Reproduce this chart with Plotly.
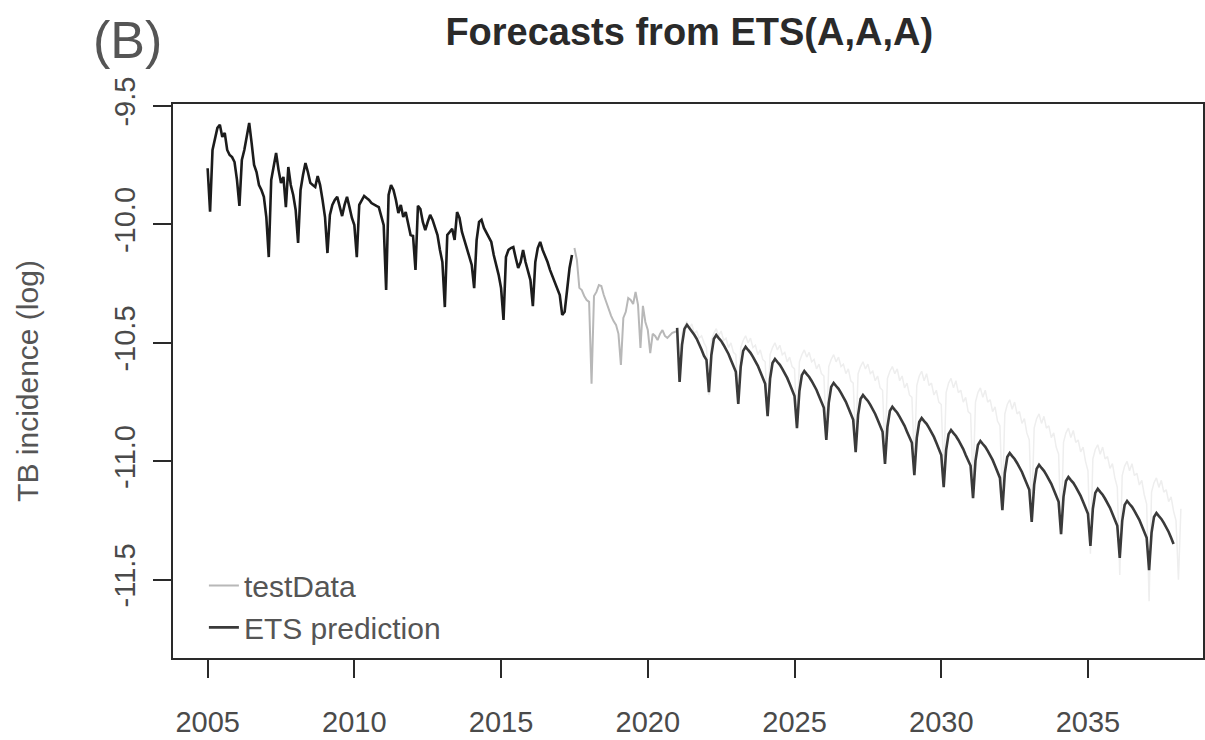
import numpy as np
import plotly.graph_objects as go

# ---------------- data ----------------
# observed series (black), monthly from Jan 2005 to Jun 2017
hist_start = (2005, 1)
hist_values = [
    -9.763, -9.946, -9.686, -9.644, -9.593, -9.580, -9.631, -9.614, -9.686, -9.707, -9.716, -9.737,   # 2005
    -9.812, -9.922, -9.728, -9.686, -9.622, -9.572, -9.657, -9.749, -9.779, -9.834, -9.855, -9.884,   # 2006
    -9.969, -10.138, -9.813, -9.749, -9.699, -9.770, -9.825, -9.800, -9.927, -9.758, -9.834, -9.876,  # 2007
    -9.939, -10.078, -9.855, -9.792, -9.741, -9.779, -9.825, -9.834, -9.842, -9.796, -9.834, -9.897,  # 2008
    -9.969, -10.121, -9.960, -9.918, -9.897, -9.884, -9.927, -9.965, -9.918, -9.884, -9.927, -9.973,  # 2009
    -10.003, -10.138, -9.918, -9.897, -9.880, -9.889, -9.897, -9.910, -9.918, -9.922, -9.927, -9.960, # 2010
    -10.003, -10.277, -9.876, -9.834, -9.855, -9.897, -9.952, -9.918, -9.969, -9.948, -10.003, -10.045, # 2011
    -10.049, -10.192, -9.922, -9.935, -9.990, -10.024, -9.990, -9.960, -9.981, -10.011, -10.045, -10.108, # 2012
    -10.159, -10.349, -10.045, -10.032, -10.019, -10.066, -9.948, -9.973, -10.032, -10.066, -10.100, -10.142, # 2013
    -10.171, -10.269, -10.066, -9.990, -9.981, -10.015, -10.036, -10.053, -10.074, -10.129, -10.171, -10.213, # 2014
    -10.269, -10.403, -10.138, -10.108, -10.100, -10.096, -10.142, -10.184, -10.159, -10.108, -10.159, -10.201, # 2015
    -10.235, -10.345, -10.159, -10.100, -10.074, -10.108, -10.133, -10.159, -10.192, -10.218, -10.247, -10.277, # 2016
    -10.298, -10.382, -10.369, -10.277, -10.184, -10.129,                                                     # 2017
]

# testData (grey), monthly from Jul 2017 to Jan 2021
test_start = (2017, 7)
test_values = [
    -10.100, -10.150, -10.268, -10.277, -10.302, -10.319,                                                     # 2017 H2
    -10.327, -10.673, -10.302, -10.285, -10.256, -10.260, -10.298, -10.327, -10.361, -10.386, -10.408, -10.424, # 2018
    -10.462, -10.593, -10.395, -10.369, -10.311, -10.319, -10.336, -10.285, -10.340, -10.522, -10.344, -10.412, # 2019
    -10.446, -10.543, -10.462, -10.471, -10.488, -10.462, -10.446, -10.471, -10.479, -10.467, -10.458, -10.454, # 2020
    -10.450,                                                                                                  # 2021 Jan
]

# faint continuation of testData behind the forecast, monthly from Jan 2021 to Mar 2038
faint_start = (2021, 1)
faint_values = [
    -10.47, -10.62, -10.46, -10.43, -10.41, -10.44, -10.42, -10.46, -10.45, -10.48, -10.47, -10.50,  # 2021
    -10.52, -10.72, -10.49, -10.46, -10.44, -10.47, -10.45, -10.49, -10.48, -10.52, -10.50, -10.54,  # 2022
    -10.55, -10.76, -10.52, -10.49, -10.47, -10.50, -10.48, -10.52, -10.51, -10.55, -10.53, -10.57,  # 2023
    -10.58, -10.80, -10.55, -10.52, -10.50, -10.53, -10.51, -10.55, -10.54, -10.58, -10.56, -10.60,  # 2024
    -10.61, -10.84, -10.58, -10.55, -10.53, -10.56, -10.54, -10.58, -10.57, -10.61, -10.59, -10.63,  # 2025
    -10.64, -10.88, -10.60, -10.57, -10.55, -10.58, -10.56, -10.60, -10.59, -10.63, -10.61, -10.66,  # 2026
    -10.67, -10.92, -10.63, -10.60, -10.58, -10.61, -10.59, -10.63, -10.62, -10.66, -10.64, -10.69,  # 2027
    -10.70, -10.96, -10.65, -10.62, -10.60, -10.63, -10.61, -10.66, -10.64, -10.69, -10.67, -10.72,  # 2028
    -10.73, -11.00, -10.68, -10.64, -10.62, -10.66, -10.63, -10.68, -10.67, -10.72, -10.70, -10.75,  # 2029
    -10.76, -11.05, -10.71, -10.67, -10.65, -10.69, -10.66, -10.71, -10.70, -10.75, -10.73, -10.79,  # 2030
    -10.80, -11.10, -10.75, -10.71, -10.69, -10.73, -10.70, -10.75, -10.74, -10.79, -10.77, -10.83,  # 2031
    -10.85, -11.16, -10.80, -10.76, -10.74, -10.78, -10.75, -10.80, -10.79, -10.84, -10.82, -10.88,  # 2032
    -10.91, -11.23, -10.86, -10.82, -10.80, -10.84, -10.81, -10.86, -10.85, -10.90, -10.88, -10.94,  # 2033
    -10.97, -11.31, -10.92, -10.88, -10.86, -10.90, -10.87, -10.92, -10.91, -10.96, -10.94, -11.00,  # 2034
    -11.04, -11.39, -10.99, -10.95, -10.93, -10.97, -10.94, -10.99, -10.98, -11.03, -11.01, -11.07,  # 2035
    -11.11, -11.48, -11.06, -11.02, -11.00, -11.04, -11.01, -11.06, -11.05, -11.10, -11.08, -11.14,  # 2036
    -11.18, -11.59, -11.13, -11.09, -11.07, -11.11, -11.08, -11.13, -11.12, -11.17, -11.15, -11.21,  # 2037
    -11.25, -11.50, -11.20,                                                                          # 2038
]

# ETS(A,A,A) point forecast (dark), monthly from Jan 2021 to Dec 2037
fc_start = (2021, 1)
fc_values = [
    -10.437, -10.665, -10.508, -10.441, -10.424, -10.437, -10.449, -10.466, -10.483, -10.504, -10.529, -10.555,  # 2021
    -10.572, -10.708, -10.551, -10.484, -10.467, -10.480, -10.492, -10.509, -10.526, -10.547, -10.572, -10.598,  # 2022
    -10.622, -10.758, -10.601, -10.534, -10.517, -10.530, -10.542, -10.559, -10.576, -10.597, -10.622, -10.648,  # 2023
    -10.673, -10.809, -10.652, -10.585, -10.568, -10.581, -10.593, -10.610, -10.627, -10.648, -10.673, -10.699,  # 2024
    -10.724, -10.860, -10.703, -10.636, -10.619, -10.632, -10.644, -10.661, -10.678, -10.699, -10.724, -10.750,  # 2025
    -10.774, -10.910, -10.753, -10.686, -10.669, -10.682, -10.694, -10.711, -10.728, -10.749, -10.774, -10.800,  # 2026
    -10.825, -10.961, -10.804, -10.737, -10.720, -10.733, -10.745, -10.762, -10.779, -10.800, -10.825, -10.851,  # 2027
    -10.875, -11.011, -10.854, -10.787, -10.770, -10.783, -10.795, -10.812, -10.829, -10.850, -10.875, -10.901,  # 2028
    -10.922, -11.058, -10.901, -10.834, -10.817, -10.830, -10.842, -10.859, -10.876, -10.897, -10.922, -10.948,  # 2029
    -10.973, -11.109, -10.952, -10.885, -10.868, -10.881, -10.893, -10.910, -10.927, -10.948, -10.973, -10.999,  # 2030
    -11.019, -11.155, -10.998, -10.931, -10.914, -10.927, -10.939, -10.956, -10.973, -10.994, -11.019, -11.045,  # 2031
    -11.070, -11.206, -11.049, -10.982, -10.965, -10.978, -10.990, -11.007, -11.024, -11.045, -11.070, -11.096,  # 2032
    -11.120, -11.256, -11.099, -11.032, -11.015, -11.028, -11.040, -11.057, -11.074, -11.095, -11.120, -11.146,  # 2033
    -11.171, -11.307, -11.150, -11.083, -11.066, -11.079, -11.091, -11.108, -11.125, -11.146, -11.171, -11.197,  # 2034
    -11.221, -11.357, -11.200, -11.133, -11.116, -11.129, -11.141, -11.158, -11.175, -11.196, -11.221, -11.247,  # 2035
    -11.272, -11.408, -11.251, -11.184, -11.167, -11.180, -11.192, -11.209, -11.226, -11.247, -11.272, -11.298,  # 2036
    -11.323, -11.459, -11.302, -11.235, -11.218, -11.231, -11.243, -11.260, -11.277, -11.298, -11.323, -11.349,  # 2037
]

x_tick_vals = [2005, 2010, 2015, 2020, 2025, 2030, 2035]
x_tick_text = ["2005", "2010", "2015", "2020", "2025", "2030", "2035"]
y_tick_vals = [-9.5, -10.0, -10.5, -11.0, -11.5]
y_tick_text = ["-9.5", "-10.0", "-10.5", "-11.0", "-11.5"]


def ts_time(start, n):
    """R-style ts time index: year + (month-1)/12."""
    y, m = start
    return y + (m - 1) / 12 + np.arange(n) / 12


FONT = "Liberation Sans, Arial, sans-serif"

fig = go.Figure()

fig.add_trace(go.Scatter(
    x=ts_time(faint_start, len(faint_values)), y=faint_values,
    mode="lines", line=dict(color="#eeeeee", width=1.5),
    showlegend=False, hoverinfo="skip"))

fig.add_trace(go.Scatter(
    x=ts_time(hist_start, len(hist_values)), y=hist_values,
    mode="lines", line=dict(color="#1c1c1c", width=2.6),
    showlegend=False, name="observed"))

fig.add_trace(go.Scatter(
    x=ts_time(test_start, len(test_values)), y=test_values,
    mode="lines", line=dict(color="#b8b8b8", width=2.0),
    name="testData", legendgroup="a"))

fig.add_trace(go.Scatter(
    x=ts_time(fc_start, len(fc_values)), y=fc_values,
    mode="lines", line=dict(color="#3a3a3a", width=2.6),
    name="ETS prediction", legendgroup="b"))

axis_common = dict(
    showline=True, mirror=True, linecolor="#2a2a2a", linewidth=2,
    showgrid=False, zeroline=False,
    ticks="outside", ticklen=18, tickwidth=2, tickcolor="#2a2a2a",
    tickfont=dict(family=FONT, size=29, color="#4a4a4a"),
)

fig.update_xaxes(
    range=[2003.82, 2038.92], tickmode="array",
    tickvals=x_tick_vals, ticktext=x_tick_text,
    ticklabelstandoff=19, **axis_common)

fig.update_yaxes(
    range=[-11.83, -9.492], tickmode="array",
    tickvals=y_tick_vals, ticktext=y_tick_text, tickangle=-90,
    ticklabelstandoff=6,
    title=dict(text="TB incidence (log)", font=dict(family=FONT, size=30, color="#555555"),
               standoff=62),
    **axis_common)

fig.update_layout(
    width=1205, height=740,
    margin=dict(l=173, r=2, t=104, b=82, autoexpand=False),
    paper_bgcolor="white", plot_bgcolor="white",
    title=dict(text="<b>Forecasts from ETS(A,A,A)</b>", x=0.572, xanchor="center",
               y=0.957, yanchor="middle",
               font=dict(family=FONT, size=38, color="#2a2a2a")),
    legend=dict(x=0.03, y=0.178, xanchor="left", yanchor="top",
                bgcolor="rgba(0,0,0,0)", borderwidth=0,
                font=dict(family=FONT, size=30, color="#555555"),
                traceorder="grouped", tracegroupgap=0),
    annotations=[dict(text="(B)", xref="paper", yref="paper",
                      x=(127 - 173) / 1030, y=1 + (104 - 40) / 554,
                      xanchor="center", yanchor="middle", showarrow=False,
                      font=dict(family=FONT, size=52, color="#555555"))],
)

fig.write_html("out.html")
